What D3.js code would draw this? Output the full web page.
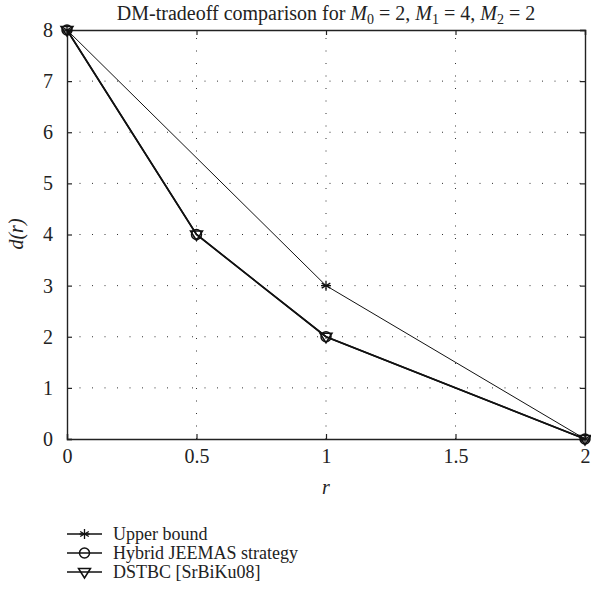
<!DOCTYPE html>
<html>
<head>
<meta charset="utf-8">
<script src="https://cdn.jsdelivr.net/npm/d3@7"></script>
<style>
  body { margin: 0; background: #fff; }
  svg text { font-family: "Liberation Serif", "DejaVu Serif", serif; fill: #222; }
</style>
</head>
<body>
<svg id="plot" width="591" height="602"></svg>
<script>
// data
const upperR = [0, 1, 2];
const upperD = [8, 3, 0];
const hybridR = [0, 0.5, 1, 2];
const hybridD = [8, 4, 2, 0];
const dstbcR = [0, 0.5, 1, 2];
const dstbcD = [8, 4, 2, 0];
const xTicks = [0, 0.5, 1, 1.5, 2];
const yTicks = [0, 1, 2, 3, 4, 5, 6, 7, 8];
const legendLabels = ["Upper bound", "Hybrid JEEMAS strategy", "DSTBC [SrBiKu08]"];

const svg = d3.select("#plot");
const plotLeft = 67, plotRight = 585, plotTop = 30, plotBottom = 439;

const x = d3.scaleLinear().domain([0, 2]).range([plotLeft, plotRight]);
const y = d3.scaleLinear().domain([0, 8]).range([plotBottom, plotTop]);

// dotted grid
const grid = svg.append("g");
xTicks.slice(1, -1).forEach(t => {
    grid.append("line")
        .attr("x1", x(t)).attr("x2", x(t))
        .attr("y1", plotBottom).attr("y2", plotTop)
        .attr("stroke", "#333").attr("stroke-width", 1)
        .attr("stroke-dasharray", "1,11.5");
});
yTicks.slice(1, -1).forEach(t => {
    grid.append("line")
        .attr("x1", plotLeft).attr("x2", plotRight)
        .attr("y1", y(t)).attr("y2", y(t))
        .attr("stroke", "#333").attr("stroke-width", 1)
        .attr("stroke-dasharray", "1,11.5");
});

// axes with inward ticks on all four sides
const fontSize = 20;
const xAxis = svg.append("g").attr("transform", `translate(0,${plotBottom})`)
    .call(d3.axisBottom(x).tickValues(xTicks).tickSize(-5).tickPadding(10)
        .tickFormat(d => d3.format("")(d)));
const yAxis = svg.append("g").attr("transform", `translate(${plotLeft},0)`)
    .call(d3.axisLeft(y).tickValues(yTicks).tickSize(-5).tickPadding(14));
const xTop = svg.append("g").attr("transform", `translate(0,${plotTop})`)
    .call(d3.axisTop(x).tickValues(xTicks).tickSize(-5).tickFormat(""));
const yRight = svg.append("g").attr("transform", `translate(${plotRight},0)`)
    .call(d3.axisRight(y).tickValues(yTicks).tickSize(-5).tickFormat(""));

[xAxis, yAxis, xTop, yRight].forEach(g => {
    g.select(".domain").attr("stroke", "#222").attr("stroke-width", 1.4);
    g.selectAll(".tick line").attr("stroke", "#222").attr("stroke-width", 1.2);
    g.selectAll("text").attr("font-size", fontSize).attr("fill", "#222")
        .style("font-family", '"Liberation Serif", serif');
});
xAxis.selectAll("text").attr("dy", "0.68em");

// series lines
const line = d3.line().x(d => x(d[0])).y(d => y(d[1]));
const upper = upperR.map((r, i) => [r, upperD[i]]);
const hybrid = hybridR.map((r, i) => [r, hybridD[i]]);
const dstbc = dstbcR.map((r, i) => [r, dstbcD[i]]);

svg.append("path").datum(upper).attr("d", line)
    .attr("fill", "none").attr("stroke", "#111").attr("stroke-width", 1);
svg.append("path").datum(hybrid).attr("d", line)
    .attr("fill", "none").attr("stroke", "#111").attr("stroke-width", 1.6);
svg.append("path").datum(dstbc).attr("d", line)
    .attr("fill", "none").attr("stroke", "#111").attr("stroke-width", 1.6);

// markers
function star(g, cx, cy) {
    const s = 5;
    [0, 60, 120].forEach(a => {
        const rad = a * Math.PI / 180;
        g.append("line")
            .attr("x1", cx - s * Math.sin(rad)).attr("y1", cy - s * Math.cos(rad))
            .attr("x2", cx + s * Math.sin(rad)).attr("y2", cy + s * Math.cos(rad))
            .attr("stroke", "#111").attr("stroke-width", 1.3);
    });
    g.append("line").attr("x1", cx - s).attr("x2", cx + s).attr("y1", cy).attr("y2", cy)
        .attr("stroke", "#111").attr("stroke-width", 1.3);
}
function circle(g, cx, cy) {
    g.append("circle").attr("cx", cx).attr("cy", cy).attr("r", 5)
        .attr("fill", "none").attr("stroke", "#111").attr("stroke-width", 1.5);
}
function triangle(g, cx, cy) {
    const s = 6;
    g.append("path")
        .attr("d", `M${cx - s},${cy - s * 0.6}L${cx + s},${cy - s * 0.6}L${cx},${cy + s}Z`)
        .attr("fill", "none").attr("stroke", "#111").attr("stroke-width", 1.5);
}

const marks = svg.append("g");
upper.forEach(d => star(marks, x(d[0]), y(d[1])));
hybrid.forEach(d => circle(marks, x(d[0]), y(d[1])));
dstbc.forEach(d => triangle(marks, x(d[0]), y(d[1])));

// title
const title = svg.append("text")
    .attr("x", (plotLeft + plotRight) / 2).attr("y", 20)
    .attr("text-anchor", "middle").attr("font-size", fontSize);
title.append("tspan").text("DM-tradeoff comparison for ");
[["0", "2"], ["1", "4"], ["2", "2"]].forEach((p, i) => {
    title.append("tspan").attr("font-style", "italic").text("M");
    title.append("tspan").attr("font-size", 14).attr("dy", 4).text(p[0]);
    title.append("tspan").attr("dy", -4).text(" = " + p[1] + (i < 2 ? ", " : ""));
});

// axis labels
svg.append("text")
    .attr("x", x(1)).attr("y", 494)
    .attr("text-anchor", "middle").attr("font-size", fontSize)
    .attr("font-style", "italic").text("r");

svg.append("text")
    .attr("transform", `translate(23,234) rotate(-90)`)
    .attr("text-anchor", "middle").attr("font-size", fontSize)
    .attr("font-style", "italic").text("d(r)");

// legend
const legendY = [534, 553, 572];
const drawers = [star, circle, triangle];
legendLabels.forEach((lab, i) => {
    const g = svg.append("g");
    g.append("line").attr("x1", 67).attr("x2", 102)
        .attr("y1", legendY[i]).attr("y2", legendY[i])
        .attr("stroke", "#111").attr("stroke-width", 1.3);
    drawers[i](g, 84.5, legendY[i]);
    g.append("text").attr("x", 113).attr("y", legendY[i] + 6)
        .attr("font-size", 18).text(lab);
});
</script>
</body>
</html>
